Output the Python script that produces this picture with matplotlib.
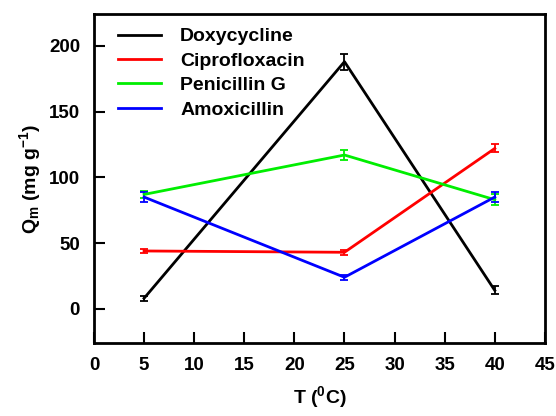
import matplotlib.pyplot as plt

# temperatur (C)
temps = [5, 25, 40]

doxy = [8, 188, 14]
doxy_err = [2, 6, 3]
cipro = [44, 43, 122]
cipro_err = [1.5, 2, 3]
penG = [87, 117, 83]
penG_err = [3, 4, 4]
amox = [85, 24, 85]
amox_err = [4, 2, 4]

names = ["Doxycycline", "Ciprofloxacin", "Penicillin G", "Amoxicillin"]
colors = ["black", "red", "#00ee00", "blue"]

plt.rcParams['font.family'] = 'Liberation Sans'
plt.rcParams['font.weight'] = 'bold'
plt.rcParams['mathtext.fontset'] = 'custom'
plt.rcParams['mathtext.rm'] = 'Liberation Sans:bold'
plt.rcParams['mathtext.bf'] = 'Liberation Sans:bold'
plt.rcParams['mathtext.it'] = 'Liberation Sans:bold'

fig = plt.figure(figsize=(5.56, 4.16), dpi=100)
ax = fig.add_axes([0.169, 0.1755, 0.811, 0.79])

series = [(doxy, doxy_err), (cipro, cipro_err), (penG, penG_err), (amox, amox_err)]
for (vals, err), name, c in zip(series, names, colors):
    ax.errorbar(temps, vals, yerr=err, color=c, lw=2, capsize=3, capthick=1.3,
                elinewidth=1.3, label=name)

ax.set_xlim(0, 45)
ax.set_ylim(-26, 224)
ax.set_xticks(range(0, 46, 5))
ax.set_yticks([0, 50, 100, 150, 200])
ax.tick_params(direction='in', length=8, width=1.5, labelsize=13.5, pad=10)
for lbl in ax.get_xticklabels() + ax.get_yticklabels():
    lbl.set_fontweight('bold')
for s in ax.spines.values():
    s.set_linewidth(2)

ax.set_xlabel(r"T ($^\mathrm{0}$C)", fontsize=14, fontweight='bold', labelpad=7)
ax.set_ylabel(r"Q$_\mathrm{m}$ (mg g$^\mathrm{-1}$)", fontsize=14, fontweight='bold', labelpad=4)

handles, labels = ax.get_legend_handles_labels()
handles = [h[0] for h in handles]
ax.legend(handles, labels, loc='upper left', bbox_to_anchor=(0.036, 0.983), frameon=False,
          handlelength=2.2, handletextpad=1.0, borderaxespad=0, labelspacing=0.35,
          prop={'weight': 'bold', 'size': 14})

fig.savefig("out.png", dpi=100)
